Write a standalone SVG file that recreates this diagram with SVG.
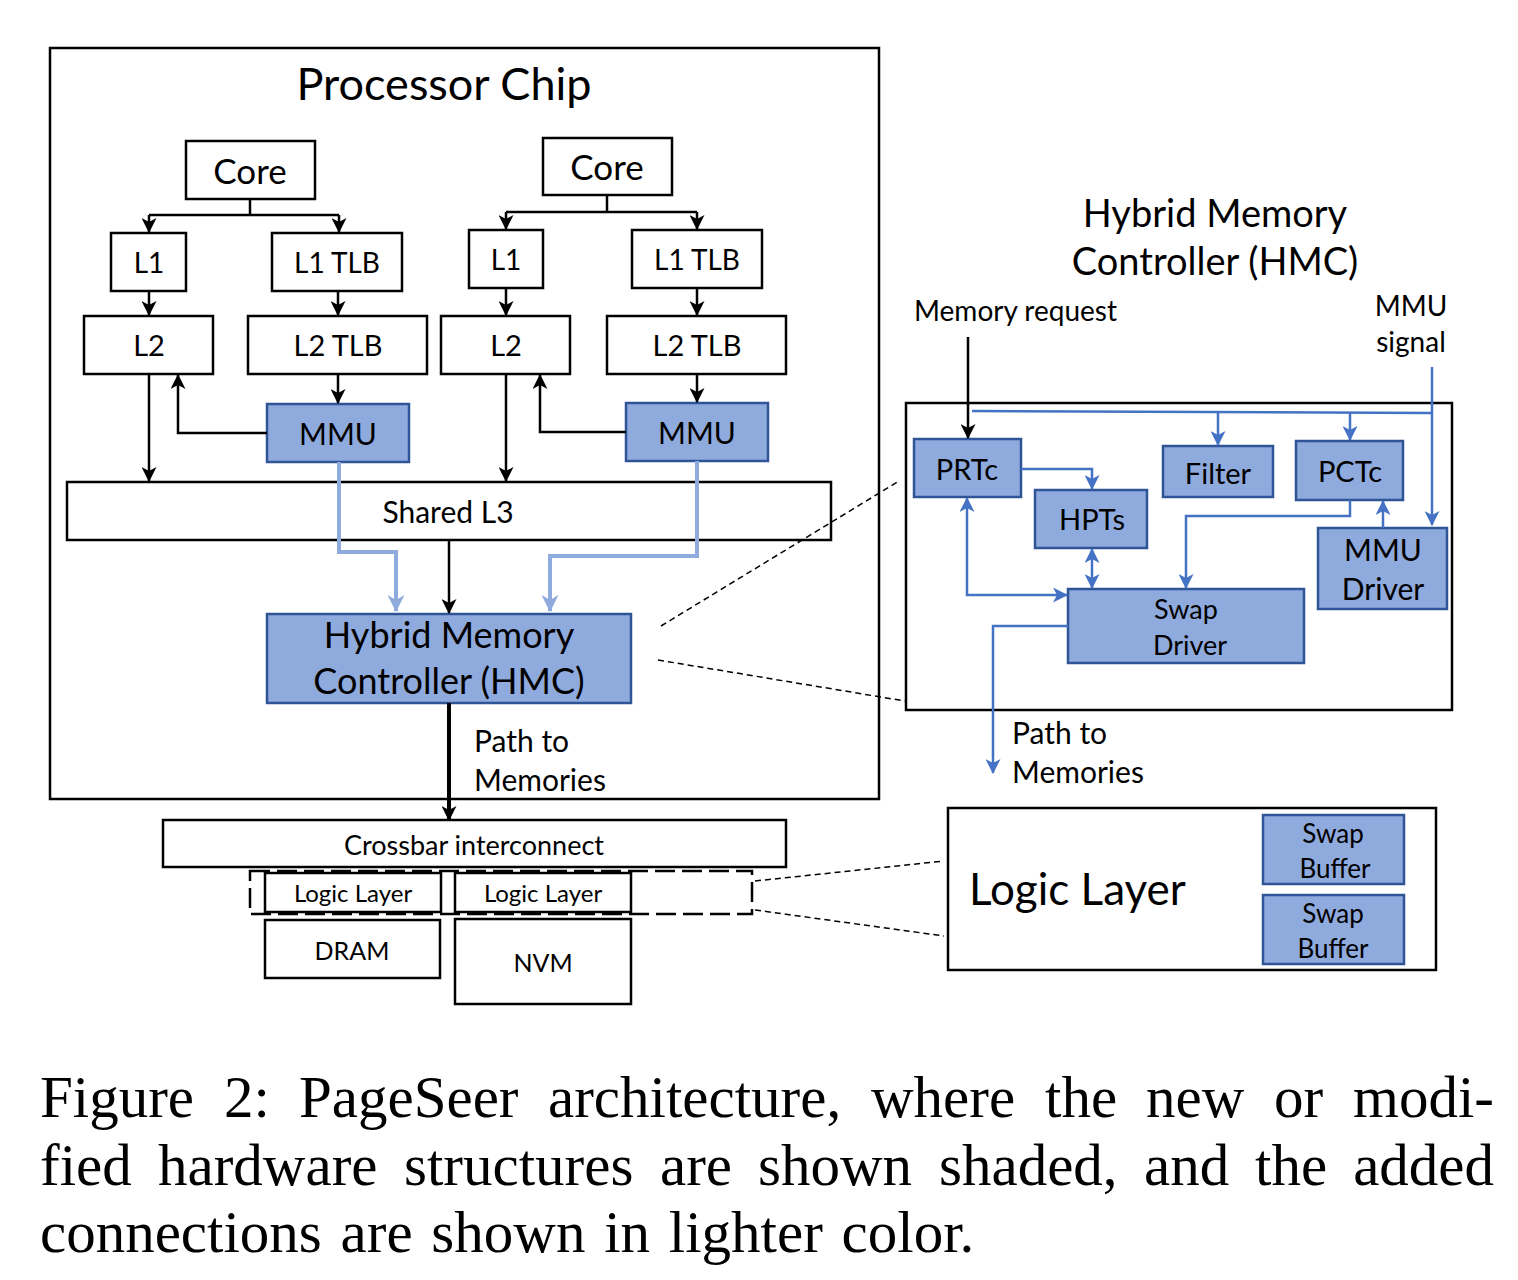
<svg xmlns="http://www.w3.org/2000/svg" width="1518" height="1280" viewBox="0 0 1518 1280">
<defs>
<style>
.t{font-family:Lato,"Liberation Sans",sans-serif;fill:#000;text-anchor:middle}
.box{fill:#fff;stroke:#000;stroke-width:2.5}
.sh{fill:#8FAADC;stroke:#2F5597;stroke-width:2.5}
.k{fill:none;stroke:#000;stroke-width:2.5}
.b{fill:none;stroke:#4472C4;stroke-width:2.5}
.lb{fill:none;stroke:#8FAADC;stroke-width:4}
.dot{fill:none;stroke:#000;stroke-width:1.5;stroke-dasharray:6 4}
.cap{font-family:"Liberation Serif","Times New Roman",serif;font-size:59px;fill:#000}
</style>
<marker id="ak" markerUnits="userSpaceOnUse" markerWidth="15" markerHeight="15" refX="14" refY="7.5" orient="auto-start-reverse" viewBox="0 0 15 15"><path d="M0,0 L15,7.5 L0,15 L4,7.5 z" fill="#000"/></marker>
<marker id="ab" markerUnits="userSpaceOnUse" markerWidth="15" markerHeight="15" refX="14" refY="7.5" orient="auto-start-reverse" viewBox="0 0 15 15"><path d="M0,0 L15,7.5 L0,15 L4,7.5 z" fill="#4472C4"/></marker>
<marker id="al" markerUnits="userSpaceOnUse" markerWidth="17" markerHeight="17" refX="16" refY="8.5" orient="auto" viewBox="0 0 17 17"><path d="M0,0 L17,8.5 L0,17 L5,8.5 z" fill="#8FAADC"/></marker>
</defs>

<g id="processor-chip">
<rect class="box" x="50" y="48" width="829" height="751"/>
<text class="t" x="444" y="100" font-size="45">Processor Chip</text>
</g>

<g id="core1"><rect class="box" x="186" y="141" width="129" height="58"/><text class="t" x="250" y="184" font-size="35">Core</text></g>
<g id="core2"><rect class="box" x="543" y="138" width="129" height="57"/><text class="t" x="607" y="180" font-size="35">Core</text></g>
<g id="l1a"><rect class="box" x="111" y="233" width="75" height="58"/><text class="t" x="149" y="273" font-size="28">L1</text></g>
<g id="l1tlba"><rect class="box" x="272" y="233" width="130" height="58"/><text class="t" x="337" y="273" font-size="28">L1 TLB</text></g>
<g id="l2a"><rect class="box" x="84" y="316" width="129" height="58"/><text class="t" x="149" y="356" font-size="29">L2</text></g>
<g id="l2tlba"><rect class="box" x="248" y="316" width="179" height="58"/><text class="t" x="338" y="356" font-size="29">L2 TLB</text></g>
<g id="mmu1"><rect class="sh" x="267" y="404" width="142" height="58"/><text class="t" x="338" y="445" font-size="30">MMU</text></g>
<g id="l1b"><rect class="box" x="469" y="230" width="74" height="58"/><text class="t" x="506" y="270" font-size="28">L1</text></g>
<g id="l1tlbb"><rect class="box" x="632" y="230" width="130" height="58"/><text class="t" x="697" y="270" font-size="28">L1 TLB</text></g>
<g id="l2b"><rect class="box" x="441" y="316" width="129" height="58"/><text class="t" x="506" y="356" font-size="29">L2</text></g>
<g id="l2tlbb"><rect class="box" x="607" y="316" width="179" height="58"/><text class="t" x="697" y="356" font-size="29">L2 TLB</text></g>
<g id="mmu2"><rect class="sh" x="626" y="403" width="142" height="58"/><text class="t" x="697" y="444" font-size="30">MMU</text></g>
<g id="l3"><rect class="box" x="67" y="482" width="764" height="58"/><text class="t" x="448" y="523" font-size="30">Shared L3</text></g>
<g id="hmc"><rect class="sh" x="267" y="614" width="364" height="89"/><text class="t" x="449" y="648" font-size="36">Hybrid Memory</text><text class="t" x="449" y="694" font-size="36">Controller (HMC)</text></g>
<g id="path-label"><text class="t" x="474" y="752" font-size="30" style="text-anchor:start">Path to</text><text class="t" x="474" y="791" font-size="30" style="text-anchor:start">Memories</text></g>

<g id="crossbar"><rect class="box" x="163" y="820" width="623" height="47"/><text class="t" x="474" y="855" font-size="27">Crossbar interconnect</text></g>
<g id="logic1"><rect class="box" x="265" y="873" width="176" height="39"/><text class="t" x="353" y="902" font-size="24">Logic Layer</text></g>
<g id="logic2"><rect class="box" x="455" y="873" width="176" height="39"/><text class="t" x="543" y="902" font-size="24">Logic Layer</text></g>
<g id="dram"><rect class="box" x="265" y="920" width="175" height="58"/><text class="t" x="352" y="960" font-size="25">DRAM</text></g>
<g id="nvm"><rect class="box" x="455" y="919" width="176" height="85"/><text class="t" x="543" y="972" font-size="25">NVM</text></g>
<g id="logic-group"><rect x="250" y="871" width="502" height="43" fill="none" stroke="#000" stroke-width="2.5" stroke-dasharray="20 7"/></g>

<g id="hmc-detail">
<text class="t" x="1215" y="227" font-size="38">Hybrid Memory</text>
<text class="t" x="1215" y="275" font-size="38">Controller (HMC)</text>
<rect class="box" x="906" y="403" width="546" height="307"/>
</g>
<g id="memreq-label"><text class="t" x="914" y="321" font-size="28" style="text-anchor:start">Memory request</text></g>
<g id="mmusig-label"><text class="t" x="1411" y="316" font-size="28">MMU</text><text class="t" x="1411" y="352" font-size="28">signal</text></g>
<g id="prtc"><rect class="sh" x="914" y="439" width="107" height="58"/><text class="t" x="967" y="480" font-size="29">PRTc</text></g>
<g id="filter"><rect class="sh" x="1163" y="446" width="110" height="51"/><text class="t" x="1218" y="484" font-size="29">Filter</text></g>
<g id="pctc"><rect class="sh" x="1296" y="441" width="107" height="59"/><text class="t" x="1350" y="482" font-size="29">PCTc</text></g>
<g id="hpts"><rect class="sh" x="1035" y="490" width="112" height="58"/><text class="t" x="1092" y="530" font-size="29">HPTs</text></g>
<g id="mmu-driver"><rect class="sh" x="1318" y="528" width="129" height="81"/><text class="t" x="1383" y="561" font-size="30">MMU</text><text class="t" x="1383" y="600" font-size="30">Driver</text></g>
<g id="swap-driver"><rect class="sh" x="1068" y="589" width="236" height="74"/><text class="t" x="1186" y="619" font-size="27">Swap</text><text class="t" x="1190" y="655" font-size="27">Driver</text></g>
<g id="path-label2"><text class="t" x="1012" y="744" font-size="30" style="text-anchor:start">Path to</text><text class="t" x="1012" y="783" font-size="30" style="text-anchor:start">Memories</text></g>

<g id="logic-detail">
<rect class="box" x="948" y="808" width="488" height="162"/>
<text class="t" x="969" y="905" font-size="44" style="text-anchor:start">Logic Layer</text>
</g>
<g id="swap-buffer1"><rect class="sh" x="1263" y="815" width="141" height="69"/><text class="t" x="1333" y="843" font-size="26">Swap</text><text class="t" x="1335" y="878" font-size="26">Buffer</text></g>
<g id="swap-buffer2"><rect class="sh" x="1263" y="895" width="141" height="69"/><text class="t" x="1333" y="923" font-size="26">Swap</text><text class="t" x="1333" y="958" font-size="26">Buffer</text></g>

<g id="connectors">
<path class="k" d="M250,199 V215 M149,215 H339" />
<path class="k" d="M149,215 V232" marker-end="url(#ak)"/>
<path class="k" d="M339,215 V232" marker-end="url(#ak)"/>
<path class="k" d="M607,195 V212 M506,212 H697"/>
<path class="k" d="M506,212 V229" marker-end="url(#ak)"/>
<path class="k" d="M697,212 V229" marker-end="url(#ak)"/>
<path class="k" d="M149,291 V315" marker-end="url(#ak)"/>
<path class="k" d="M338,291 V315" marker-end="url(#ak)"/>
<path class="k" d="M506,288 V315" marker-end="url(#ak)"/>
<path class="k" d="M697,288 V315" marker-end="url(#ak)"/>
<path class="k" d="M338,374 V403" marker-end="url(#ak)"/>
<path class="k" d="M697,374 V402" marker-end="url(#ak)"/>
<path class="k" d="M267,433 H178 V375" marker-end="url(#ak)"/>
<path class="k" d="M626,432 H540 V375" marker-end="url(#ak)"/>
<path class="k" d="M149,374 V481" marker-end="url(#ak)"/>
<path class="k" d="M506,374 V481" marker-end="url(#ak)"/>
<path class="k" d="M449,540 V613" marker-end="url(#ak)"/>
<path class="lb" d="M339,462 V552 H396 V611" marker-end="url(#al)"/>
<path class="lb" d="M697,461 V556 H550 V611" marker-end="url(#al)"/>
<path d="M449,703 V820" fill="none" stroke="#000" stroke-width="4" marker-end="url(#ak)"/>
<path class="dot" d="M661,626 L899,481"/>
<path class="dot" d="M658,660 L905,701"/>
<path class="dot" d="M755,881 L944,861"/>
<path class="dot" d="M755,910 L944,936"/>
<path class="k" d="M968,337 V438" marker-end="url(#ak)"/>
<path class="b" d="M972,411 L1432,413"/>
<path class="b" d="M1432,367 V525" marker-end="url(#ab)"/>
<path class="b" d="M1218,412 V445" marker-end="url(#ab)"/>
<path class="b" d="M1350,413 V440" marker-end="url(#ab)"/>
<path class="b" d="M1021,469 H1092 V489" marker-end="url(#ab)"/>
<path class="b" d="M967,498 V595 H1067" marker-start="url(#ab)" marker-end="url(#ab)"/>
<path class="b" d="M1092,549 V588" marker-start="url(#ab)" marker-end="url(#ab)"/>
<path class="b" d="M1350,500 V516 H1186 V588" marker-end="url(#ab)"/>
<path class="b" d="M1383,528 V501" marker-end="url(#ab)"/>
<path class="b" d="M1068,626 H993 V773" marker-end="url(#ab)"/>
</g>

<g id="caption">
<text class="cap" y="1117"><tspan x="40">Figure</tspan><tspan x="224">2:</tspan><tspan x="299">PageSeer</tspan><tspan x="548">architecture,</tspan><tspan x="871">where</tspan><tspan x="1045">the</tspan><tspan x="1146">new</tspan><tspan x="1274">or</tspan><tspan x="1494" text-anchor="end">modi-</tspan></text>
<text class="cap" y="1185"><tspan x="40">fied</tspan><tspan x="158">hardware</tspan><tspan x="404">structures</tspan><tspan x="660">are</tspan><tspan x="758">shown</tspan><tspan x="939">shaded,</tspan><tspan x="1144">and</tspan><tspan x="1255">the</tspan><tspan x="1494" text-anchor="end">added</tspan></text>
<text class="cap" x="40" y="1252" word-spacing="4">connections are shown in lighter color.</text>
</g>
</svg>
